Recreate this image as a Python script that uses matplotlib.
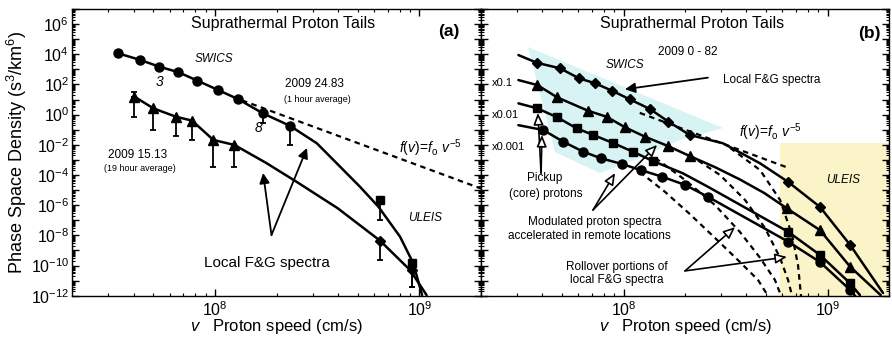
import numpy as np
import matplotlib
matplotlib.use("Agg")
import matplotlib.pyplot as plt
from matplotlib.ticker import LogLocator, FuncFormatter, NullFormatter
from matplotlib.patches import Polygon

plt.rcParams["font.family"] = ["Liberation Sans", "DejaVu Sans"]
plt.rcParams["mathtext.fontset"] = "custom"
plt.rcParams["mathtext.rm"] = "Liberation Sans"
plt.rcParams["mathtext.it"] = "Liberation Sans:italic"
plt.rcParams["mathtext.bf"] = "Liberation Sans:bold"

V_RANGE = (2e7, 2e9)
F_RANGE = (1e-12, 1e7)

# ---------------- panel (a): two single-day spectra ----------------
a_swics_v = [3.37e7, 4.31e7, 5.35e7, 6.62e7, 8.2e7, 1.035e8, 1.30e8, 1.72e8, 2.33e8]
a_swics_f = [1.15e4, 4.2e3, 1.5e3, 6.5e2, 1.8e2, 43, 10.5, 1.2, 0.18]
a_swics_err_lo = [None, None, None, None, None, None, None, 0.3, 9.3e-3]
a_swics_line_v = a_swics_v + [3.15e8, 4.17e8, 5.12e8, 6.30e8, 8.04e8, 9.33e8, 1.03e9]
a_swics_line_f = a_swics_f + [1.26e-2, 2.75e-4, 1.66e-5, 7.9e-7, 8.1e-9, 1.4e-10, 1.1e-12]

a_tri_v = [4.04e7, 5.0e7, 6.46e7, 7.73e7, 9.82e7, 1.245e8]
a_tri_f = [15.5, 2.6, 0.72, 0.40, 0.021, 0.0098]
a_tri_err_lo = [0.72, 0.095, 0.038, 0.021, 3.5e-4, 3.5e-4]
a_tri_err_hi = [33, None, None, None, None, None]
a_tri_line_v = a_tri_v + [1.78e8, 2.51e8, 3.98e8, 6.41e8, 9.0e8, 1.084e9]
a_tri_line_f = a_tri_f + [6.3e-4, 3.5e-5, 6.3e-7, 4.5e-9, 5e-11, 1.1e-12]

a_uleis_sq_v = [6.41e8, 9.17e8]
a_uleis_sq_f = [2.2e-6, 1.5e-10]
a_uleis_sq_err_lo = [1.05e-7, 4e-12]
a_uleis_dm_v = [6.41e8, 9.17e8]
a_uleis_dm_f = [4.5e-9, 5e-11]
a_uleis_dm_err_lo = [2.3e-10, 4e-12]

a_powerlaw_v0, a_powerlaw_f0 = 1.22e8, 15.0
POWER_INDEX = -5

# ---------------- panel (b): 2009 days 0-82, scaled spectra ----------------
b_dm_v = [3.75e7, 4.88e7, 6.04e7, 7.24e7, 8.75e7, 1.07e8, 1.35e8, 1.66e8, 2.11e8, 6.40e8, 9.18e8, 1.29e9]
b_dm_f = [2.75e3, 1.17e3, 257, 120, 39, 10.5, 2.3, 0.34, 0.045, 3.5e-5, 7.6e-7, 2.3e-9]
b_dm_line_v = [3.05e7] + b_dm_v[:9] + [3.07e8, 4.67e8] + b_dm_v[9:] + [1.87e9]
b_dm_line_f = [8.9e3] + b_dm_f[:9] + [1.26e-2, 5.9e-4] + b_dm_f[9:] + [1.5e-12]

b_tri_v = [3.78e7, 4.72e7, 6.70e7, 8.26e7, 1.016e8, 1.27e8, 1.65e8, 2.11e8, 6.31e8, 9.18e8, 1.29e9]
b_tri_f = [91, 14, 1.8, 0.72, 0.145, 0.035, 8.3e-3, 1.8e-3, 6.2e-7, 2.2e-8, 8.3e-11]
b_tri_line_v = [3.05e7] + b_tri_v[:8] + [2.82e8, 3.72e8, 4.9e8] + b_tri_v[8:] + [1.82e9]
b_tri_line_f = [195] + b_tri_f[:8] + [3.2e-4, 5.0e-5, 6.3e-6] + b_tri_f[8:] + [1.1e-12]

b_sq_v = [3.78e7, 4.73e7, 5.89e7, 7.10e7, 8.87e7, 1.11e8, 1.39e8, 6.40e8, 9.18e8, 1.29e9]
b_sq_f = [2.6, 0.66, 0.123, 0.045, 0.0132, 3.5e-3, 8.5e-4, 1.74e-8, 5e-10, 6.6e-12]
b_sq_line_v = [3.05e7] + b_sq_v[:7] + [1.95e8, 2.59e8] + b_sq_v[7:] + [1.44e9]
b_sq_line_f = [5.6] + b_sq_f[:7] + [1.3e-4, 1.66e-5] + b_sq_f[7:] + [1.1e-12]

b_ci_v = [4.04e7, 5.06e7, 6.34e7, 7.73e7, 9.79e7, 1.216e8, 1.54e8, 2.0e8, 2.59e8, 6.41e8, 9.18e8, 1.29e9]
b_ci_f = [0.095, 0.016, 3.5e-3, 1.29e-3, 5.4e-4, 2.1e-4, 7.8e-5, 2.2e-5, 3.6e-6, 3.8e-9, 1.7e-10, 2.4e-12]
b_ci_line_v = [3.05e7] + b_ci_v + [1.38e9]
b_ci_line_f = [0.2] + b_ci_f + [8e-13]

# rollover (dashed) continuations of the local spectra
b_roll_ci_v = [1.20e8, 1.60e8, 2.11e8, 2.81e8, 3.72e8, 4.56e8, 5.11e8]
b_roll_ci_f = [1.6e-4, 7.4e-6, 2.6e-7, 6.6e-9, 1.7e-10, 1.1e-11, 9.5e-13]
b_roll_sq_v = [1.43e8, 2.0e8, 2.81e8, 3.72e8, 4.67e8, 5.52e8, 5.92e8]
b_roll_sq_f = [1.35e-3, 4.7e-5, 1.0e-6, 1.66e-8, 3.2e-10, 1.1e-11, 9.5e-13]
b_roll_tri_v = [2.11e8, 2.97e8, 3.94e8, 4.93e8, 5.85e8, 6.40e8, 6.70e8]
b_roll_tri_f = [2.1e-3, 1e-4, 2.2e-6, 3.1e-8, 3.2e-10, 1.1e-11, 9.5e-13]
b_roll_dm_v = [3.33e8, 4.67e8, 5.85e8, 6.70e8, 7.16e8, 7.41e8]
b_roll_dm_f = [6.2e-3, 2.1e-4, 2.2e-6, 1.05e-8, 1.1e-10, 9.5e-13]

b_powerlaw_v0, b_powerlaw_f0 = 1.2e8, 1.3
b_powerlaw_vmax = 6.3e8

# SWICS and ULEIS coverage regions
swics_region_v = [3.4e7, 3.07e8, 1.89e8, 1.20e8, 7.66e7, 4.61e7]
swics_region_f = [3.0e4, 0.129, 0.021, 1.35e-3, 1.35e-4, 3.3e-3]
uleis_region_v = [5.85e8, 2e9]
uleis_region_f = [1.26e-2, 1e-12]

LINE_KW = dict(color="black", lw=1.8, solid_capstyle="round", solid_joinstyle="round", zorder=3)
MK_KW = dict(color="black", ls="none", zorder=4)
DASH_KW = dict(color="black", lw=1.6, ls=(0, (2.5, 2)), zorder=2)


def style_axis(ax, ylabels):
    ax.set_xscale("log")
    ax.set_yscale("log")
    ax.set_xlim(*V_RANGE)
    ax.set_ylim(*F_RANGE)
    ax.xaxis.set_major_locator(LogLocator(base=10, numticks=10))
    ax.xaxis.set_minor_locator(LogLocator(base=10, subs=np.arange(2, 10), numticks=20))
    ax.xaxis.set_major_formatter(FuncFormatter(lambda v, p: r"$10^{%d}$" % round(np.log10(v))))
    ax.xaxis.set_minor_formatter(NullFormatter())
    ax.yaxis.set_major_locator(LogLocator(base=10, numticks=30))
    ax.yaxis.set_minor_locator(LogLocator(base=10, subs=np.arange(2, 10), numticks=40))
    ax.yaxis.set_minor_formatter(NullFormatter())
    if ylabels:
        ax.yaxis.set_major_formatter(FuncFormatter(
            lambda v, p: (r"$10^{%d}$" % round(np.log10(v))) if round(np.log10(v)) % 2 == 0 else ""))
    else:
        ax.yaxis.set_major_formatter(NullFormatter())
    ax.tick_params(which="both", direction="in", top=True, right=True, labelsize=11.5)
    ax.tick_params(axis="x", pad=3)
    ax.tick_params(axis="y", pad=2)
    ax.tick_params(which="major", length=5, width=1.0)
    ax.tick_params(which="minor", length=2.5, width=0.8)
    for s in ax.spines.values():
        s.set_linewidth(1.0)
    ax.set_xlabel(r"$v$   Proton speed (cm/s)", fontsize=12, labelpad=-1)


def powerlaw(ax, v0, f0, vmax):
    v = np.geomspace(v0, vmax, 20)
    ax.plot(v, f0 * (v / v0) ** POWER_INDEX, **DASH_KW)


def err_lo(ax, v, f, lo):
    for vi, fi, li in zip(v, f, lo):
        if li is not None:
            ax.errorbar([vi], [fi], yerr=[[fi - li], [0]], fmt="none", ecolor="black",
                        elinewidth=1.3, capsize=2.2, capthick=1.3, zorder=3)


fig = plt.figure(figsize=(8.92, 3.38), dpi=100)
axa = fig.add_axes([72 / 892, 1 - 295.7 / 338, 409 / 892, 286.7 / 338])
axb = fig.add_axes([481 / 892, 1 - 295.7 / 338, 408 / 892, 286.7 / 338])

# ---------- panel (a) ----------
style_axis(axa, True)
axa.set_ylabel(r"Phase Space Density (s$^3$/km$^6$)", fontsize=13, labelpad=1)
powerlaw(axa, a_powerlaw_v0, a_powerlaw_f0, V_RANGE[1])
axa.plot(a_swics_line_v, a_swics_line_f, **LINE_KW)
axa.plot(a_tri_line_v, a_tri_line_f, **LINE_KW)
err_lo(axa, a_swics_v, a_swics_f, a_swics_err_lo)
err_lo(axa, a_tri_v, a_tri_f, a_tri_err_lo)
for vi, fi, hi in zip(a_tri_v, a_tri_f, a_tri_err_hi):
    if hi is not None:
        axa.errorbar([vi], [fi], yerr=[[0], [hi - fi]], fmt="none", ecolor="black",
                     elinewidth=1.3, capsize=2.2, capthick=1.3, zorder=3)
err_lo(axa, a_uleis_sq_v, a_uleis_sq_f, a_uleis_sq_err_lo)
err_lo(axa, a_uleis_dm_v, a_uleis_dm_f, a_uleis_dm_err_lo)
axa.plot(a_swics_v, a_swics_f, marker="o", ms=6.5, **MK_KW)
axa.plot(a_tri_v, a_tri_f, marker="^", ms=6.5, **MK_KW)
axa.plot(a_uleis_sq_v, a_uleis_sq_f, marker="s", ms=6, **MK_KW)
axa.plot(a_uleis_dm_v, a_uleis_dm_f, marker="D", ms=5.5, **MK_KW)

ta = axa.transAxes
axa.text(0.516, 0.951, "Suprathermal Proton Tails", transform=ta, ha="center", va="center", fontsize=11.5)
axa.text(0.922, 0.920, "(a)", transform=ta, ha="center", va="center", fontsize=12.5, fontweight="bold")
axa.text(0.347, 0.826, "SWICS", transform=ta, ha="center", va="center", fontsize=8.5, style="italic")
axa.text(0.213, 0.746, "3", transform=ta, ha="center", va="center", fontsize=10, style="italic")
axa.text(0.455, 0.586, "8", transform=ta, ha="center", va="center", fontsize=10, style="italic")
axa.text(0.592, 0.740, "2009 24.83", transform=ta, ha="center", va="center", fontsize=8.5)
axa.text(0.599, 0.686, "(1 hour average)", transform=ta, ha="center", va="center", fontsize=6.5)
axa.text(0.161, 0.491, "2009 15.13", transform=ta, ha="center", va="center", fontsize=8.5)
axa.text(0.166, 0.445, "(19 hour average)", transform=ta, ha="center", va="center", fontsize=6.5)
axa.text(0.875, 0.515, r"$f(v)\!=\!f_{\rm o}\ v^{-5}$", transform=ta, ha="center", va="center", fontsize=10)
axa.text(0.863, 0.271, "ULEIS", transform=ta, ha="center", va="center", fontsize=8.5, style="italic")
axa.text(0.477, 0.114, "Local F&G spectra", transform=ta, ha="center", va="center", fontsize=11)
for tip in [(1.72e8, 1.35e-4), (2.82e8, 6.2e-3)]:
    axa.annotate("", xy=tip, xytext=(1.89e8, 1.05e-8),
                 arrowprops=dict(arrowstyle="-|>,head_length=0.6,head_width=0.3", color="black",
                                 lw=1.3, shrinkA=0, shrinkB=0), zorder=5)

# ---------- panel (b) ----------
style_axis(axb, False)
axb.add_patch(Polygon(np.column_stack([swics_region_v, swics_region_f]), closed=True,
                      facecolor="#d8f3f3", edgecolor="none", zorder=0))
axb.fill_between(uleis_region_v, uleis_region_f[1], uleis_region_f[0], color="#fbf4c9", lw=0, zorder=0)
powerlaw(axb, b_powerlaw_v0, b_powerlaw_f0, b_powerlaw_vmax)
for rv, rf in [(b_roll_ci_v, b_roll_ci_f), (b_roll_sq_v, b_roll_sq_f),
               (b_roll_tri_v, b_roll_tri_f), (b_roll_dm_v, b_roll_dm_f)]:
    axb.plot(rv, rf, **DASH_KW)
for lv, lf in [(b_dm_line_v, b_dm_line_f), (b_tri_line_v, b_tri_line_f),
               (b_sq_line_v, b_sq_line_f), (b_ci_line_v, b_ci_line_f)]:
    axb.plot(lv, lf, **LINE_KW)
axb.plot(b_dm_v, b_dm_f, marker="D", ms=5.5, **MK_KW)
axb.plot(b_tri_v, b_tri_f, marker="^", ms=6.5, **MK_KW)
axb.plot(b_sq_v, b_sq_f, marker="s", ms=6, **MK_KW)
axb.plot(b_ci_v, b_ci_f, marker="o", ms=6.5, **MK_KW)

tb = axb.transAxes
axb.text(0.517, 0.951, "Suprathermal Proton Tails", transform=tb, ha="center", va="center", fontsize=11.5)
axb.text(0.507, 0.850, "2009 0 - 82", transform=tb, ha="center", va="center", fontsize=8.5)
axb.text(0.951, 0.916, "(b)", transform=tb, ha="center", va="center", fontsize=12.5, fontweight="bold")
axb.text(0.353, 0.805, "SWICS", transform=tb, ha="center", va="center", fontsize=8.5, style="italic")
axb.text(0.713, 0.752, "Local F&G spectra", transform=tb, ha="center", va="center", fontsize=8.5)
axb.text(0.027, 0.743, "x0.1", transform=tb, ha="left", va="center", fontsize=8)
axb.text(0.027, 0.630, "x0.01", transform=tb, ha="left", va="center", fontsize=8)
axb.text(0.027, 0.520, "x0.001", transform=tb, ha="left", va="center", fontsize=8)
axb.text(0.708, 0.571, r"$f(v)\!=\!f_{\rm o}\ v^{-5}$", transform=tb, ha="center", va="center", fontsize=10)
axb.text(0.887, 0.404, "ULEIS", transform=tb, ha="center", va="center", fontsize=8.5, style="italic")
axb.text(0.157, 0.410, "Pickup", transform=tb, ha="center", va="center", fontsize=8.5)
axb.text(0.159, 0.355, "(core) protons", transform=tb, ha="center", va="center", fontsize=8.5)
axb.text(0.279, 0.257, "Modulated proton spectra", transform=tb, ha="center", va="center", fontsize=8.5)
axb.text(0.265, 0.208, "accelerated in remote locations", transform=tb, ha="center", va="center", fontsize=8.5)
axb.text(0.333, 0.100, "Rollover portions of", transform=tb, ha="center", va="center", fontsize=8.5)
axb.text(0.333, 0.055, "local F&G spectra", transform=tb, ha="center", va="center", fontsize=8.5)

solid_head = dict(arrowstyle="-|>,head_length=0.6,head_width=0.3", color="black", lw=1.3,
                  shrinkA=0, shrinkB=0)
hollow_head = dict(arrowstyle="-|>,head_length=0.7,head_width=0.3", edgecolor="black",
                   facecolor="white", lw=1.2, shrinkA=0, shrinkB=0)
axb.annotate("", xy=(1.016e8, 47.9), xytext=(2.59e8, 282), arrowprops=solid_head, zorder=5)
for tip in [(3.80e7, 1.29), (3.98e7, 0.045)]:
    axb.annotate("", xy=tip, xytext=(3.94e7, 1.35e-4), arrowprops=hollow_head, zorder=5)
for tip in [(9.08e7, 1.35e-4), (1.46e8, 9.8e-3)]:
    axb.annotate("", xy=tip, xytext=(7.08e7, 4.8e-7), arrowprops=hollow_head, zorder=5)
for tip in [(3.52e8, 3.5e-8), (6.32e8, 3.7e-10)]:
    axb.annotate("", xy=tip, xytext=(2.0e8, 4.4e-11), arrowprops=hollow_head, zorder=5)

fig.savefig("out.png", dpi=100)
